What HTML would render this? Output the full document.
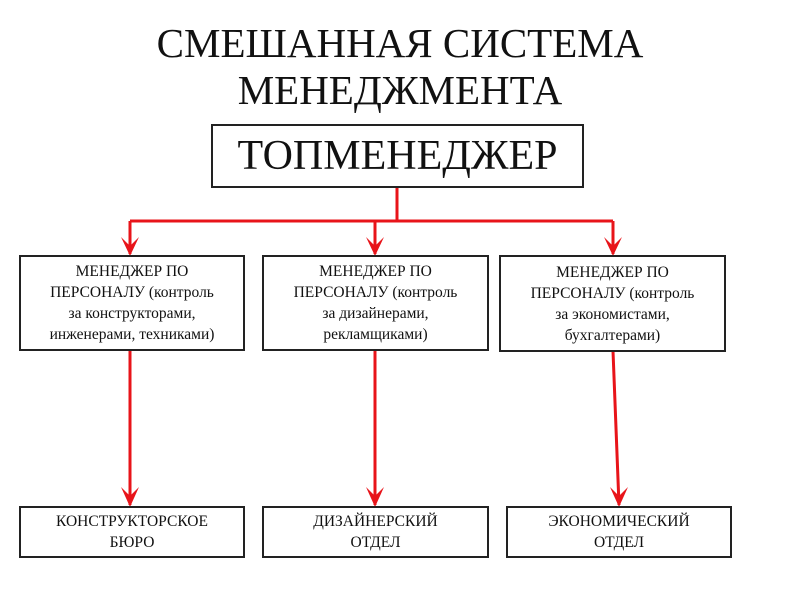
<!DOCTYPE html>
<html><head><meta charset="utf-8"><style>
body{margin:0;width:800px;height:600px;background:#fff;position:relative;overflow:hidden;font-family:"Liberation Serif","DejaVu Serif",serif;color:#111}
.t{position:absolute;left:0;width:800px;text-align:center;font-size:41px;line-height:47px;top:20px}
.b{position:absolute;border:2px solid #222;box-sizing:border-box;display:flex;align-items:center;justify-content:center;text-align:center;font-size:15.5px;line-height:21px}
</style></head><body>
<div class="t">СМЕШАННАЯ СИСТЕМА<br>МЕНЕДЖМЕНТА</div>
<div class="b" style="left:211px;top:124px;width:373px;height:64px;font-size:42px;line-height:48px">ТОПМЕНЕДЖЕР</div>
<svg width="800" height="600" style="position:absolute;left:0;top:0">
<g stroke="#e8141a" stroke-width="3" fill="none">
<path d="M397 188V221M130 221H613M130 221V254M375 221V254M613 221V254M130 350V505M375 350V505M613 351L619 505"/>
</g>
<g fill="#e8141a">
<path d="M121 237L130 256L139 237L130 246Z"/>
<path d="M366 237L375 256L384 237L375 246Z"/>
<path d="M604 237L613 256L622 237L613 246Z"/>
<path d="M121 487L130 507L139 487L130 496Z"/>
<path d="M366 487L375 507L384 487L375 496Z"/>
<path d="M610 487L619 507L628 487L619 496Z"/>
</g></svg>
<div class="b" style="left:19px;top:255px;width:226px;height:96px">МЕНЕДЖЕР ПО<br>ПЕРСОНАЛУ (контроль<br>за конструкторами,<br>инженерами, техниками)</div>
<div class="b" style="left:262px;top:255px;width:227px;height:96px">МЕНЕДЖЕР ПО<br>ПЕРСОНАЛУ (контроль<br>за дизайнерами,<br>рекламщиками)</div>
<div class="b" style="left:499px;top:255px;width:227px;height:97px">МЕНЕДЖЕР ПО<br>ПЕРСОНАЛУ (контроль<br>за экономистами,<br>бухгалтерами)</div>
<div class="b" style="left:19px;top:506px;width:226px;height:52px">КОНСТРУКТОРСКОЕ<br>БЮРО</div>
<div class="b" style="left:262px;top:506px;width:227px;height:52px">ДИЗАЙНЕРСКИЙ<br>ОТДЕЛ</div>
<div class="b" style="left:506px;top:506px;width:226px;height:52px">ЭКОНОМИЧЕСКИЙ<br>ОТДЕЛ</div>
</body></html>
